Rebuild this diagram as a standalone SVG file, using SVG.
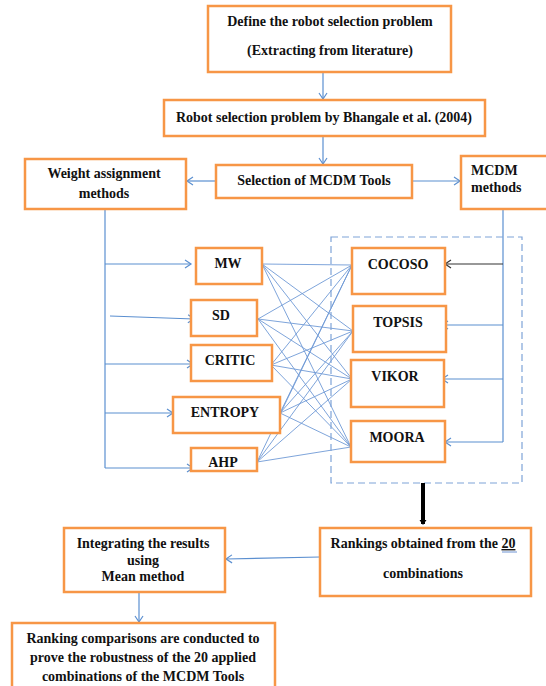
<svg xmlns="http://www.w3.org/2000/svg" width="546" height="686" viewBox="0 0 546 686">
<style>
.box{fill:#fff;stroke:#F79646;stroke-width:2.5}
.t{font-family:"Liberation Serif","Times New Roman",serif;font-weight:bold;font-size:14px;fill:#111;text-anchor:middle}
.tl{font-family:"Liberation Serif","Times New Roman",serif;font-weight:bold;font-size:14px;fill:#111}
.c{stroke:#5B8FD0;stroke-width:1.2;fill:none}
.x{stroke:#6F9AD6;stroke-width:0.9;fill:none}
</style>
<defs>
<marker id="a" markerUnits="userSpaceOnUse" markerWidth="12" markerHeight="12" refX="7" refY="5" orient="auto" viewBox="0 0 12 12">
<path d="M1,1 L7,5 L1,9" fill="none" stroke="#5B8FD0" stroke-width="1.2"/>
</marker>
<marker id="ak" markerUnits="userSpaceOnUse" markerWidth="12" markerHeight="12" refX="7" refY="5" orient="auto" viewBox="0 0 12 12">
<path d="M1,1 L7,5 L1,9" fill="none" stroke="#333" stroke-width="1.2"/>
</marker>
<marker id="ab" markerUnits="userSpaceOnUse" markerWidth="10" markerHeight="10" refX="4" refY="4" orient="auto" viewBox="0 0 10 10">
<path d="M0,0.5 L5,4 L0,7.5 Z" fill="#000"/>
</marker>
</defs>

<g id="connectors">
<line class="c" x1="323" y1="72" x2="323" y2="99" marker-end="url(#a)"/>
<line class="c" x1="323" y1="136" x2="323" y2="164" marker-end="url(#a)"/>
<line class="c" x1="216" y1="181" x2="187" y2="181" marker-end="url(#a)"/>
<line class="c" x1="413" y1="181" x2="460" y2="181" marker-end="url(#a)"/>
<polyline class="c" points="105,208 105,468"/>
<line class="c" x1="105" y1="264" x2="191" y2="264" marker-end="url(#a)"/>
<line class="c" x1="110" y1="316" x2="194" y2="319" marker-end="url(#a)"/>
<line class="c" x1="105" y1="364" x2="193" y2="364" marker-end="url(#a)"/>
<line class="c" x1="105" y1="413" x2="173" y2="413" marker-end="url(#a)"/>
<line class="c" x1="105" y1="468" x2="193" y2="468" marker-end="url(#a)"/>
<polyline class="c" points="503,208 503,442"/>
<line x1="503" y1="264" x2="445" y2="264" stroke="#333" stroke-width="1.1" marker-end="url(#ak)"/>
<line class="c" x1="503" y1="325" x2="442" y2="325" marker-end="url(#a)"/>
<line class="c" x1="503" y1="379" x2="442" y2="379" marker-end="url(#a)"/>
<line class="c" x1="503" y1="442" x2="445" y2="442" marker-end="url(#a)"/>
<g class="x">
<line x1="262" y1="264" x2="352" y2="265"/>
<line x1="262" y1="264" x2="353" y2="331"/>
<line x1="262" y1="264" x2="352" y2="379"/>
<line x1="262" y1="264" x2="351" y2="447"/>
<line x1="258" y1="319" x2="352" y2="265"/>
<line x1="258" y1="319" x2="353" y2="331"/>
<line x1="258" y1="319" x2="352" y2="379"/>
<line x1="258" y1="319" x2="351" y2="447"/>
<line x1="271" y1="365" x2="352" y2="265"/>
<line x1="271" y1="365" x2="353" y2="331"/>
<line x1="271" y1="365" x2="352" y2="379"/>
<line x1="271" y1="365" x2="351" y2="447"/>
<line x1="280" y1="413" x2="352" y2="265"/>
<line x1="280" y1="413" x2="353" y2="331"/>
<line x1="280" y1="413" x2="352" y2="379"/>
<line x1="280" y1="413" x2="351" y2="447"/>
<line x1="257" y1="462" x2="352" y2="265"/>
<line x1="257" y1="462" x2="353" y2="331"/>
<line x1="257" y1="462" x2="352" y2="379"/>
<line x1="257" y1="462" x2="351" y2="447"/>
</g>
<rect x="331" y="237" width="191" height="246" fill="none" stroke="#7EA3D8" stroke-width="1.2" stroke-dasharray="7,4"/>
<line x1="423" y1="483" x2="423" y2="524" stroke="#000" stroke-width="4" marker-end="url(#ab)"/>
<line class="c" x1="320" y1="557" x2="226" y2="559" marker-end="url(#a)"/>
<line class="c" x1="139" y1="592" x2="139" y2="622" marker-end="url(#a)"/>
</g>

<g id="define"><rect class="box" x="208" y="6" width="243" height="66"/>
<text class="t" x="330" y="26">Define the robot selection problem</text>
<text class="t" x="330" y="55">(Extracting from literature)</text></g>

<g id="bhangale"><rect class="box" x="164" y="100" width="321" height="36"/>
<text class="t" x="324" y="122">Robot selection problem by Bhangale et al. (2004)</text></g>

<g id="weight"><rect class="box" x="25" y="159" width="161" height="50"/>
<text class="t" x="104" y="178">Weight assignment</text>
<text class="t" x="104" y="198">methods</text></g>

<g id="selection"><rect class="box" x="216" y="165" width="196" height="33"/>
<text class="t" x="314" y="185">Selection of MCDM Tools</text></g>

<g id="mcdm"><rect class="box" x="461" y="156" width="92" height="53"/>
<text class="tl" x="471" y="175">MCDM</text>
<text class="tl" x="471" y="192">methods</text></g>

<g id="mw"><rect class="box" x="196" y="248" width="66" height="36"/><text class="t" x="228" y="268">MW</text></g>
<g id="sd"><rect class="box" x="191" y="300" width="66" height="36"/><text class="t" x="221" y="320">SD</text></g>
<g id="critic"><rect class="box" x="191" y="345" width="81" height="36"/><text class="t" x="230" y="365">CRITIC</text></g>
<g id="entropy"><rect class="box" x="173" y="397" width="107" height="36"/><text class="t" x="225" y="417">ENTROPY</text></g>
<g id="ahp"><rect class="box" x="191" y="448" width="66" height="23"/><text class="t" x="223" y="467">AHP</text></g>

<g id="cocoso"><rect class="box" x="352" y="248" width="93" height="46"/><text class="t" x="398" y="269">COCOSO</text></g>
<g id="topsis"><rect class="box" x="353" y="306" width="93" height="46"/><text class="t" x="398" y="327">TOPSIS</text></g>
<g id="vikor"><rect class="box" x="351" y="360" width="93" height="47"/><text class="t" x="395" y="381">VIKOR</text></g>
<g id="moora"><rect class="box" x="351" y="421" width="94" height="41"/><text class="t" x="397" y="442">MOORA</text></g>

<g id="rankings"><rect class="box" x="320" y="528" width="211" height="68"/>
<text class="t" x="423" y="548">Rankings obtained from the <tspan text-decoration="underline">20</tspan></text>
<line x1="502" y1="552" x2="517" y2="552" stroke="#4A78C8" stroke-width="0.8"/>
<text class="t" x="423" y="578">combinations</text></g>

<g id="integrating"><rect class="box" x="64" y="528" width="161" height="64"/>
<text class="t" x="143" y="548">Integrating the results</text>
<text class="t" x="143" y="565">using</text>
<text class="t" x="143" y="581">Mean method</text></g>

<g id="comparison"><rect class="box" x="12" y="623" width="263" height="70"/>
<text class="t" x="143" y="643">Ranking comparisons are conducted to</text>
<text class="t" x="143" y="662">prove the robustness of the 20 applied</text>
<text class="t" x="143" y="681">combinations of the MCDM Tools</text></g>
</svg>
